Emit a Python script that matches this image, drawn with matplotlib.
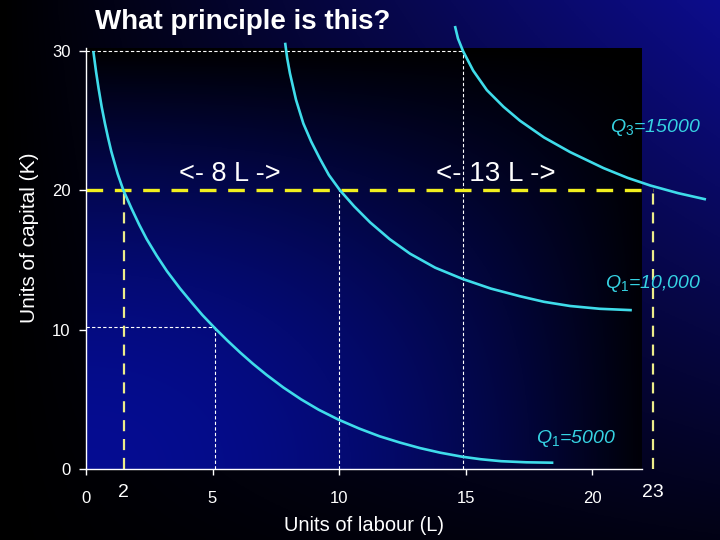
import numpy as np
import matplotlib
matplotlib.use("Agg")
import matplotlib.pyplot as plt

plt.rcParams["font.family"] = ["Liberation Sans", "DejaVu Sans"]
plt.rcParams["mathtext.fontset"] = "custom"
plt.rcParams["mathtext.rm"] = "Liberation Sans"
plt.rcParams["mathtext.it"] = "Liberation Sans:italic"

# isoquants (labour L, capital K)
q1_L = [0.29, 0.4, 0.5, 0.62, 0.75, 0.87, 1.0, 1.25, 1.48, 1.8, 2.1, 2.4, 2.8, 3.2,
        3.72, 4.2, 4.6, 5.1, 5.6, 6.1, 6.6, 7.14, 7.8, 8.5, 9.2, 9.97, 10.8, 11.6,
        12.4, 13.2, 14.0, 14.87, 15.6, 16.4, 17.4, 18.47]
q1_K = [30.0, 28.5, 27.3, 26.0, 24.8, 23.8, 22.8, 21.2, 20.0, 18.7, 17.55, 16.5, 15.3, 14.2,
        12.95, 11.9, 11.05, 10.1, 9.2, 8.35, 7.55, 6.75, 5.85, 5.0, 4.25, 3.55, 2.9, 2.35,
        1.9, 1.5, 1.17, 0.88, 0.7, 0.56, 0.48, 0.45]
q2_L = [7.87, 7.95, 8.06, 8.3, 8.59, 8.9, 9.25, 9.6, 10.04, 10.6, 11.23, 12.0, 12.81,
        13.8, 14.87, 16.0, 17.15, 18.1, 19.13, 20.3, 21.57]
q2_K = [30.6, 29.5, 28.4, 26.5, 24.8, 23.5, 22.25, 21.1, 20.0, 18.85, 17.7, 16.5, 15.45,
        14.45, 13.65, 12.95, 12.4, 12.0, 11.7, 11.5, 11.4]
q3_L = [14.58, 14.7, 14.9, 15.3, 15.84, 16.5, 17.15, 18.1, 19.13, 20.45, 21.4, 22.3, 23.4, 24.5]
q3_K = [31.8, 30.9, 30.0, 28.6, 27.2, 26.0, 25.0, 23.8, 22.75, 21.6, 20.9, 20.35, 19.8, 19.35]

y_ticks = [0, 10, 20, 30]
x_ticks = [0, 5, 10, 15, 20]
extra_x = [1.5, 22.4]
extra_labels = ["2", "23"]
k_level = 20

CYAN = "#3fdcea"
YELLOW = "#f2f01e"

fig = plt.figure(figsize=(7.2, 5.4), dpi=100)

# slide background: black on the left, blue on the right
bg = fig.add_axes([0, 0, 1, 1], zorder=-10)
u = np.linspace(0, 1, 300)[None, :]
v = np.linspace(1, 0, 200)[:, None]
f = u * (0.15 + 0.85 * v)
bg.imshow(np.dstack([0.05 * f, 0.05 * f, 0.55 * f]), aspect="auto", extent=[0, 1, 0, 1])
bg.axis("off")

ax = fig.add_axes([0.1194, 0.1315, 0.7722, 0.7791])
ax.set_facecolor("none")
xmax, ymax = 21.97, 30.2
ax.set_xlim(0, xmax)
ax.set_ylim(0, ymax)

# plot area gradient: blue bottom-left, black top and right
pu = np.linspace(0, 1, 300)[None, :]
pv = np.linspace(1, 0, 200)[:, None]
pf = (1 - pv ** 2) * (1 - 0.95 * pu ** 2)
ax.imshow(np.dstack([0.02 * pf, 0.05 * pf, 0.57 * pf]), aspect="auto",
          extent=[0, xmax, 0, ymax], zorder=0)

# white guide lines
wd = dict(color="white", lw=0.8, ls=(0, (3, 2)), zorder=2)
ax.plot([0, 14.9], [30, 30], **wd)
ax.plot([14.9, 14.9], [0, 30], **wd)
ax.plot([10.0, 10.0], [0, 20], **wd)
ax.plot([5.1, 5.1], [0, 10.2], **wd)
ax.plot([0, 5.1], [10.2, 10.2], **wd)

# yellow lines
ax.plot([0, extra_x[1]], [k_level, k_level], color=YELLOW, lw=2.4,
        ls=(0, (5, 3.5)), zorder=3, clip_on=False)
for xv in extra_x:
    ax.plot([xv, xv], [0, k_level], color="#ecec8a", lw=1.6,
            ls=(0, (5, 3.5)), zorder=3, clip_on=False)

# isoquants
for L, K in [(q1_L, q1_K), (q2_L, q2_K), (q3_L, q3_K)]:
    ax.plot(L, K, color=CYAN, lw=1.9, zorder=4, clip_on=False,
            solid_capstyle="butt", solid_joinstyle="round")

for s in ["top", "right"]:
    ax.spines[s].set_visible(False)
for s in ["left", "bottom"]:
    ax.spines[s].set_color("white")
    ax.spines[s].set_linewidth(1.0)
    ax.spines[s].set_zorder(5)

tick_font = ["Liberation Sans Narrow", "Liberation Sans", "DejaVu Sans"]
ax.set_yticks(y_ticks)
ax.set_yticklabels([str(t) for t in y_ticks], family=tick_font, fontsize=12)
ax.set_xticks(x_ticks)
ax.set_xticklabels([str(t) for t in x_ticks], family=tick_font, fontsize=12)
ax.tick_params(axis="y", colors="white", length=5, width=1, pad=6)
ax.tick_params(axis="x", colors="white", length=4, width=1, pad=12)

for xv, lab in zip(extra_x, extra_labels):
    ax.text(xv, -0.055, lab, transform=ax.get_xaxis_transform(), color="white",
            fontsize=14, ha="center", va="center")

ax.set_ylabel("Units of capital (K)", color="white", fontsize=15)
ax.yaxis.set_label_coords(-0.085, 0.55)
ax.set_xlabel("Units of labour (L)", color="white", fontsize=14.5)
ax.xaxis.set_label_coords(0.5, -0.112)

fig.text(95 / 720, 1 - 22 / 540, "What principle is this?", color="white",
         fontsize=20, fontweight="bold", ha="left", va="center")

ax.text(5.7, 21.2, "<- 8 L ->", color="white", fontsize=19.5, ha="center", va="center")
ax.text(16.2, 21.2, "<- 13 L ->", color="white", fontsize=20, ha="center", va="center")

qc = "#36d2e2"
ax.text(20.7, 24.5, r"$Q_3$=15000", color=qc, fontsize=14, style="italic",
        ha="left", va="center", clip_on=False)
ax.text(20.5, 13.3, r"$Q_1$=10,000", color=qc, fontsize=14, style="italic",
        ha="left", va="center", clip_on=False)
ax.text(17.8, 2.2, r"$Q_1$=5000", color=qc, fontsize=14, style="italic",
        ha="left", va="center", clip_on=False)

fig.savefig("out.png", dpi=100)
